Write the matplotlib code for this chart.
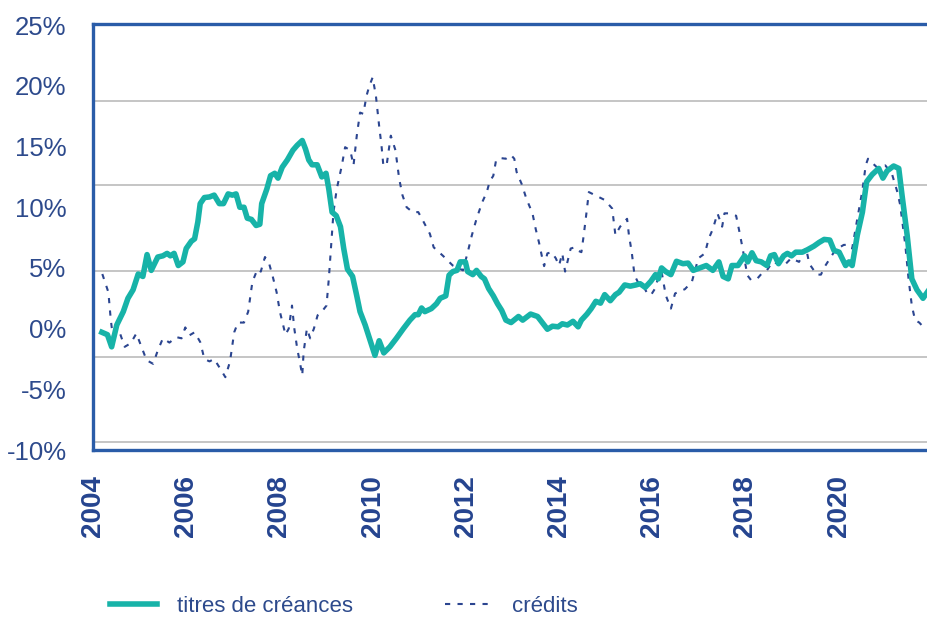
import matplotlib
matplotlib.use('Agg')
import matplotlib.pyplot as plt

# taux de croissance annuel (%), lecture du graphique
titres_dates = [
    2004.19, 2004.31, 2004.40, 2004.51, 2004.65, 2004.75, 2004.86, 2004.97, 2005.07, 2005.16,
    2005.25, 2005.39, 2005.50, 2005.59, 2005.66, 2005.74, 2005.83, 2005.93, 2006.00, 2006.11,
    2006.18, 2006.25, 2006.30, 2006.39, 2006.50, 2006.60, 2006.71, 2006.80, 2006.90, 2006.99,
    2007.07, 2007.15, 2007.24, 2007.31, 2007.40, 2007.50, 2007.58, 2007.62, 2007.73, 2007.81,
    2007.90, 2007.97, 2008.06, 2008.17, 2008.29, 2008.38, 2008.49, 2008.56, 2008.63, 2008.70,
    2008.81, 2008.91, 2009.00, 2009.06, 2009.13, 2009.22, 2009.31, 2009.38, 2009.46, 2009.57,
    2009.66, 2009.73, 2009.84, 2009.95, 2010.05, 2010.14, 2010.24, 2010.37, 2010.51, 2010.66,
    2010.80, 2010.91, 2010.98, 2011.05, 2011.12, 2011.26, 2011.37, 2011.45, 2011.57, 2011.64,
    2011.72, 2011.81, 2011.88, 2011.99, 2012.04, 2012.15, 2012.23, 2012.33, 2012.40, 2012.49,
    2012.59, 2012.68, 2012.77, 2012.86, 2012.97, 2013.13, 2013.22, 2013.39, 2013.54, 2013.63,
    2013.75, 2013.86, 2013.98, 2014.07, 2014.18, 2014.30, 2014.41, 2014.48, 2014.60, 2014.69,
    2014.79, 2014.89, 2014.98, 2015.10, 2015.21, 2015.29, 2015.41, 2015.53, 2015.65, 2015.74,
    2015.85, 2015.97, 2016.07, 2016.13, 2016.20, 2016.29, 2016.40, 2016.52, 2016.66, 2016.77,
    2016.88, 2017.02, 2017.16, 2017.30, 2017.43, 2017.52, 2017.63, 2017.71, 2017.84, 2017.98,
    2018.05, 2018.14, 2018.23, 2018.34, 2018.46, 2018.54, 2018.62, 2018.71, 2018.82, 2018.90,
    2018.99, 2019.08, 2019.22, 2019.33, 2019.47, 2019.58, 2019.69, 2019.81, 2019.90, 2020.01,
    2020.15, 2020.22, 2020.29, 2020.40, 2020.51, 2020.60, 2020.72, 2020.86, 2020.95, 2021.04,
    2021.18, 2021.29, 2021.36, 2021.47, 2021.57, 2021.68, 2021.81, 2021.92,
]
titres = [
    -0.3, -0.5, -1.5, 0.3, 1.4, 2.5, 3.2, 4.5, 4.3, 6.1,
    4.8, 5.9, 6.0, 6.2, 6.0, 6.2, 5.2, 5.5, 6.6, 7.2,
    7.4, 8.8, 10.3, 10.8, 10.85, 11.0, 10.3, 10.3, 11.1, 11.0,
    11.1, 10.0, 10.0, 9.1, 9.0, 8.5, 8.6, 10.3, 11.5, 12.6,
    12.8, 12.4, 13.3, 13.9, 14.7, 15.1, 15.5, 14.8, 13.9, 13.5,
    13.5, 12.5, 12.8, 11.5, 9.6, 9.3, 8.4, 6.6, 4.9, 4.3,
    2.7, 1.4, 0.3, -1.0, -2.2, -1.0, -2.0, -1.5, -0.8, 0.0,
    0.7, 1.15, 1.15, 1.7, 1.4, 1.65, 2.05, 2.5, 2.7, 4.4,
    4.7, 4.8, 5.5, 5.5, 4.7, 4.45, 4.8, 4.3, 4.1, 3.3,
    2.7, 2.05, 1.5, 0.7, 0.5, 1.0, 0.7, 1.2, 1.0, 0.55,
    -0.05, 0.2, 0.15, 0.4, 0.3, 0.6, 0.15, 0.7, 1.2, 1.65,
    2.25, 2.1, 2.8, 2.3, 2.8, 3.0, 3.6, 3.5, 3.6, 3.7,
    3.4, 3.9, 4.45, 4.1, 5.0, 4.7, 4.45, 5.55, 5.35, 5.4,
    4.8, 5.0, 5.2, 4.8, 5.5, 4.3, 4.1, 5.2, 5.2, 6.0,
    5.5, 6.25, 5.6, 5.5, 5.2, 6.0, 6.1, 5.35, 6.0, 6.2,
    6.0, 6.3, 6.3, 6.5, 6.8, 7.1, 7.35, 7.3, 6.45, 6.3,
    5.2, 5.5, 5.2, 7.7, 9.6, 12.1, 12.7, 13.2, 12.4, 13.0,
    13.4, 13.2, 11.0, 7.7, 4.1, 3.2, 2.5, 3.1,
]

credits_dates = [
    2004.20, 2004.33, 2004.38, 2004.43, 2004.58, 2004.68, 2004.81, 2004.93, 2005.04, 2005.15,
    2005.29, 2005.39, 2005.50, 2005.64, 2005.79, 2005.90, 2005.98, 2006.07, 2006.18, 2006.30,
    2006.39, 2006.50, 2006.60, 2006.73, 2006.84, 2006.94, 2007.03, 2007.11, 2007.24, 2007.33,
    2007.42, 2007.53, 2007.60, 2007.69, 2007.78, 2007.85, 2007.94, 2008.01, 2008.08, 2008.13,
    2008.20, 2008.27, 2008.32, 2008.38, 2008.45, 2008.49, 2008.52, 2008.59, 2008.66, 2008.74,
    2008.82, 2008.91, 2009.01, 2009.06, 2009.11, 2009.16, 2009.23, 2009.34, 2009.41, 2009.52,
    2009.59, 2009.66, 2009.73, 2009.80, 2009.87, 2009.93, 2010.00, 2010.07, 2010.14, 2010.19,
    2010.23, 2010.30, 2010.39, 2010.49, 2010.57, 2010.64, 2010.73, 2010.86, 2010.98, 2011.08,
    2011.23, 2011.31, 2011.51, 2011.72, 2011.94, 2012.06, 2012.13, 2012.23, 2012.35, 2012.45,
    2012.51, 2012.59, 2012.65, 2012.75, 2012.86, 2012.97, 2013.04, 2013.09, 2013.20, 2013.30,
    2013.43, 2013.50, 2013.57, 2013.63, 2013.68, 2013.75, 2013.84, 2013.93, 2014.00, 2014.07,
    2014.13, 2014.18, 2014.25, 2014.34, 2014.39, 2014.48, 2014.53, 2014.60, 2014.64, 2014.77,
    2014.85, 2014.98, 2015.14, 2015.21, 2015.31, 2015.46, 2015.50, 2015.56, 2015.62, 2015.69,
    2015.78, 2015.88, 2015.97, 2016.06, 2016.12, 2016.20, 2016.29, 2016.40, 2016.49, 2016.70,
    2016.85, 2016.99, 2017.13, 2017.21, 2017.30, 2017.40, 2017.50, 2017.55, 2017.66, 2017.80,
    2017.87, 2017.94, 2018.04, 2018.12, 2018.25, 2018.34, 2018.46, 2018.58, 2018.69, 2018.83,
    2018.98, 2019.15, 2019.30, 2019.37, 2019.53, 2019.62, 2019.70, 2019.90, 2020.00, 2020.11,
    2020.22, 2020.29, 2020.40, 2020.51, 2020.58, 2020.63, 2020.68, 2020.82, 2021.00, 2021.14,
    2021.26, 2021.32, 2021.43, 2021.50, 2021.57, 2021.64, 2021.73, 2021.85,
]
credits = [
    4.5, 3.0, 0.8, -0.8, -0.4, -1.5, -1.2, -0.4, -1.5, -2.6,
    -2.9, -1.8, -0.8, -1.15, -0.7, -0.8, 0.1, -0.55, -0.3, -1.1,
    -2.5, -2.7, -2.5, -3.3, -4.0, -2.7, -0.3, 0.5, 0.5, 1.4,
    3.85, 4.9, 4.7, 5.9, 5.35, 4.4, 3.0, 1.4, 0.3, -0.5,
    0.0, 1.9, 0.0, -1.6, -3.0, -3.85, -1.9, 0.0, -0.8, 0.0,
    1.1, 1.4, 1.9, 4.1, 6.9, 9.6, 11.5, 13.45, 14.95, 14.7,
    13.45, 15.9, 17.8, 17.7, 19.2, 20.0, 20.7, 19.2, 16.7, 15.1,
    13.45, 13.45, 15.9, 14.7, 12.35, 11.0, 10.0, 9.6, 9.6, 8.9,
    7.8, 6.7, 6.0, 5.2, 4.8, 6.6, 7.7, 9.05, 10.4, 11.25,
    12.1, 12.6, 13.9, 14.05, 14.0, 14.3, 14.0, 12.9, 11.9, 10.7,
    9.5, 8.2, 7.1, 6.0, 5.15, 6.2, 6.3, 5.8, 5.2, 6.2,
    4.7, 5.5, 6.6, 6.7, 6.45, 6.3, 7.7, 9.9, 11.25, 11.0,
    10.85, 10.6, 9.9, 7.7, 8.4, 9.05, 7.7, 6.3, 4.4, 3.85,
    3.7, 3.0, 2.75, 3.3, 4.1, 4.7, 2.75, 1.65, 2.9, 3.25,
    3.85, 5.8, 6.2, 7.4, 8.2, 9.5, 8.4, 9.5, 9.5, 9.3,
    8.0, 6.6, 4.4, 4.0, 4.1, 4.5, 4.8, 5.5, 5.35, 5.2,
    5.8, 5.5, 6.65, 5.35, 4.45, 4.45, 5.1, 6.3, 6.65, 6.9,
    6.9, 6.6, 9.05, 11.4, 13.45, 14.0, 13.8, 13.3, 13.45, 12.8,
    11.25, 10.2, 6.9, 4.1, 1.9, 0.7, 0.5, 0.0,
]

year_ticks = [2004, 2006, 2008, 2010, 2012, 2014, 2016, 2018, 2020]
pct_ticks = [-10, -5, 0, 5, 10, 15, 20, 25]
grid_levels = [-9.35, -2.3, 4.75, 11.8, 18.75]

BLUE_TXT = '#2d4a8c'
FRAME = '#2a5ca8'
TEAL = '#17b3a8'
NAVY = '#2b4590'

sans = ['Liberation Sans', 'DejaVu Sans']

fig = plt.figure(figsize=(9.28, 6.19), dpi=100)
ax = fig.add_axes([93 / 928, 169 / 619, 857 / 928, 426 / 619])

for g in grid_levels:
    ax.axhline(g, color='#b5b5b5', linewidth=1.1, zorder=1)

ax.plot(titres_dates, titres, color=TEAL, linewidth=4.0, zorder=3,
        solid_joinstyle='round', label='titres de créances')
ax.plot(credits_dates, credits, color=NAVY, linewidth=1.5, zorder=2,
        linestyle=(0, (2.5, 3.5)), label='crédits')

ax.set_xlim(2004 + 5 / 46.875, 2004 + (950 - 88) / 46.875)
ax.set_ylim(-10, 25.1)

ax.set_yticks(pct_ticks)
ax.set_yticklabels([f'{v}%' for v in pct_ticks], family=sans, fontsize=18.5, color=BLUE_TXT)
ax.set_xticks(year_ticks)
ax.set_xticklabels([str(y) for y in year_ticks], family=sans,
                   fontsize=20, fontweight='bold', color='#25448f', rotation=90)
ax.tick_params(axis='y', length=0, pad=19)
ax.tick_params(axis='x', length=0, pad=18)

for side in ['left', 'bottom', 'top']:
    ax.spines[side].set_color(FRAME)
    ax.spines[side].set_linewidth(2.4)
ax.spines['right'].set_visible(False)

handles, labels = ax.get_legend_handles_labels()
leg = fig.legend(handles, labels, loc='center left', bbox_to_anchor=(110 / 928, 13 / 619),
                 ncol=2, frameon=False, handlelength=2.1, handletextpad=0.9,
                 columnspacing=4.15, borderpad=0, borderaxespad=0,
                 prop={'family': sans, 'size': 16})
for t in leg.get_texts():
    t.set_color(BLUE_TXT)

fig.savefig('out.png', dpi=100)
